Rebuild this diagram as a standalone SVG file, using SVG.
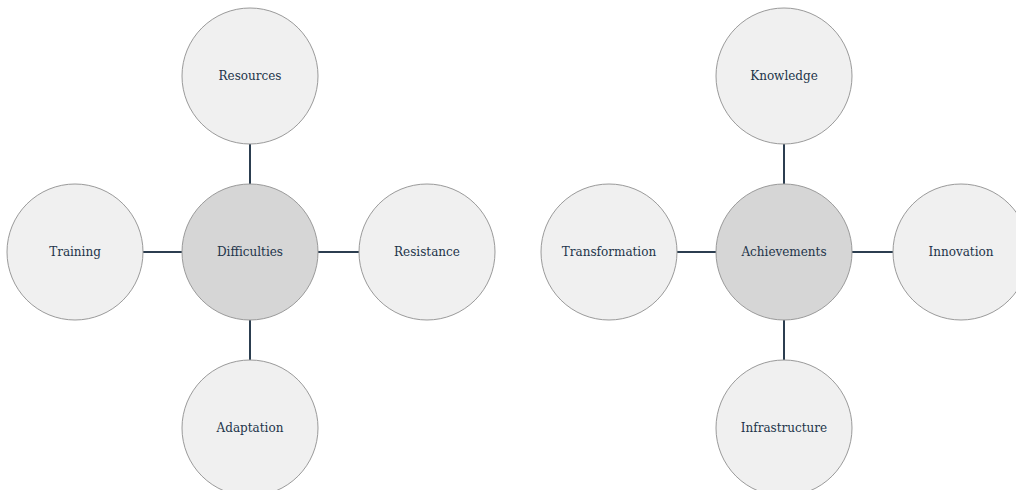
<svg xmlns="http://www.w3.org/2000/svg" width="1016" height="490" viewBox="0 0 1016 490">
  <style>
    .link { stroke: #2c3e50; stroke-width: 2; fill: none; }
    .outer { fill: #f0f0f0; stroke: #9a9a9a; stroke-width: 1; }
    .hub { fill: #d6d6d6; stroke: #9a9a9a; stroke-width: 1; }
    .label { font-family: 'DejaVu Serif', serif; font-size: 12px; fill: #22344a; text-anchor: middle; }
  </style>
  <rect width="1016" height="490" fill="#ffffff"/>

  <!-- connectors, drawn between circle edges -->
  <g id="connectors">
    <line class="link" x1="250" y1="144" x2="250" y2="184"/>
    <line class="link" x1="250" y1="320" x2="250" y2="360"/>
    <line class="link" x1="143" y1="252" x2="182" y2="252"/>
    <line class="link" x1="318" y1="252" x2="359" y2="252"/>
    <line class="link" x1="784" y1="144" x2="784" y2="184"/>
    <line class="link" x1="784" y1="320" x2="784" y2="360"/>
    <line class="link" x1="677" y1="252" x2="716" y2="252"/>
    <line class="link" x1="852" y1="252" x2="893" y2="252"/>
  </g>

  <!-- left cluster; labels sit on a baseline 4px below each centre -->
  <g id="difficulties">
    <circle class="hub" cx="250" cy="252" r="68"/>
    <text class="label" x="250" y="256">Difficulties</text>
  </g>
  <g id="resources">
    <circle class="outer" cx="250" cy="76" r="68"/>
    <text class="label" x="250" y="80">Resources</text>
  </g>
  <g id="training">
    <circle class="outer" cx="75" cy="252" r="68"/>
    <text class="label" x="75" y="256">Training</text>
  </g>
  <g id="resistance">
    <circle class="outer" cx="427" cy="252" r="68"/>
    <text class="label" x="427" y="256">Resistance</text>
  </g>
  <g id="adaptation">
    <circle class="outer" cx="250" cy="428" r="68"/>
    <text class="label" x="250" y="432">Adaptation</text>
  </g>

  <!-- right cluster -->
  <g id="achievements">
    <circle class="hub" cx="784" cy="252" r="68"/>
    <text class="label" x="784" y="256">Achievements</text>
  </g>
  <g id="knowledge">
    <circle class="outer" cx="784" cy="76" r="68"/>
    <text class="label" x="784" y="80">Knowledge</text>
  </g>
  <g id="transformation">
    <circle class="outer" cx="609" cy="252" r="68"/>
    <text class="label" x="609" y="256">Transformation</text>
  </g>
  <g id="innovation">
    <circle class="outer" cx="961" cy="252" r="68"/>
    <text class="label" x="961" y="256">Innovation</text>
  </g>
  <g id="infrastructure">
    <circle class="outer" cx="784" cy="428" r="68"/>
    <text class="label" x="784" y="432">Infrastructure</text>
  </g>
</svg>
